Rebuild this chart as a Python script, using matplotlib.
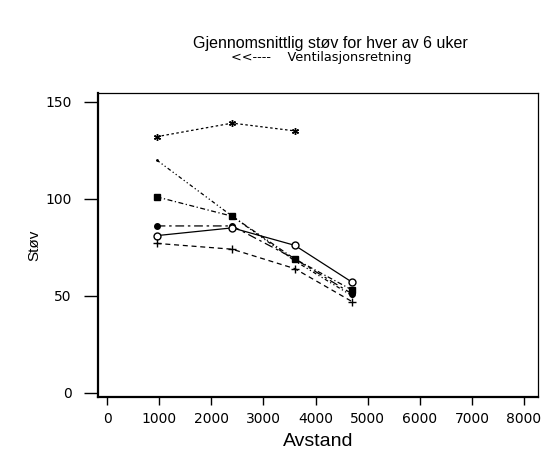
import numpy as np
import matplotlib
matplotlib.use("Agg")
import matplotlib.pyplot as plt

plt.rcParams['font.family'] = ['Liberation Sans', 'DejaVu Sans']

# avstand (m) for målepunktene
avstand = [950, 2400, 3600, 4700]

# gjennomsnittlig støv per uke
uke1 = [132, 139, 135]
uke2 = [120, 91, 68, 50]
uke3 = [101, 91, 69, 53]
uke4 = [86, 86, 69, 51]
uke5 = [81, 85, 76, 57]
uke6 = [77, 74, 64, 47]

x_ticks = [0, 1000, 2000, 3000, 4000, 5000, 6000, 7000, 8000]
y_ticks = [0, 50, 100, 150]

fig = plt.figure(figsize=(5.42, 4.53), dpi=100)
ax = fig.add_axes([0.181, 0.124, 0.812, 0.671])

k = dict(color='black', linewidth=0.9)
ax.plot(avstand[:3], uke1, linestyle=(0, (2, 2)), marker=(6, 2, 0), markersize=5, **k)
ax.plot(avstand, uke2, linestyle=(0, (3, 2, 1, 2, 1, 2)), marker='.', markersize=2, **k)
ax.plot(avstand, uke3, linestyle=(0, (4, 2, 1, 2)), marker='s', markersize=4, **k)
ax.plot(avstand, uke4, linestyle=(0, (7, 3, 2, 3)), marker='o', markersize=4, **k)
ax.plot(avstand, uke5, linestyle='-', marker='o', markersize=5, markerfacecolor='white', **k)
ax.plot(avstand, uke6, linestyle=(0, (4, 3)), marker='+', markersize=6, **k)

ax.set_xlim(-173, 8272)
ax.set_ylim(-2.1, 154.6)
ax.set_xticks(x_ticks)
ax.set_yticks(y_ticks)
ax.tick_params(axis='y', length=10, width=1, labelsize=10, pad=9)
ax.tick_params(axis='x', length=6, width=1, labelsize=10, pad=5)
for lab in ax.get_xticklabels() + ax.get_yticklabels():
    lab.set_family('DejaVu Sans')
for s in ['left', 'bottom']:
    ax.spines[s].set_linewidth(1.6)
for s in ['top', 'right']:
    ax.spines[s].set_linewidth(0.9)

ax.set_xlabel('Avstand', fontsize=14, labelpad=5)
ax.set_ylabel('Støv', fontsize=11, labelpad=3)

fig.text(0.61, 0.905, 'Gjennomsnittlig støv for hver av 6 uker', ha='center', va='center', fontsize=11.5)
fig.text(0.593, 0.873, '<<----    Ventilasjonsretning', ha='center', va='center',
         fontsize=9.3, family='DejaVu Sans')

fig.savefig('out.png', dpi=100)
